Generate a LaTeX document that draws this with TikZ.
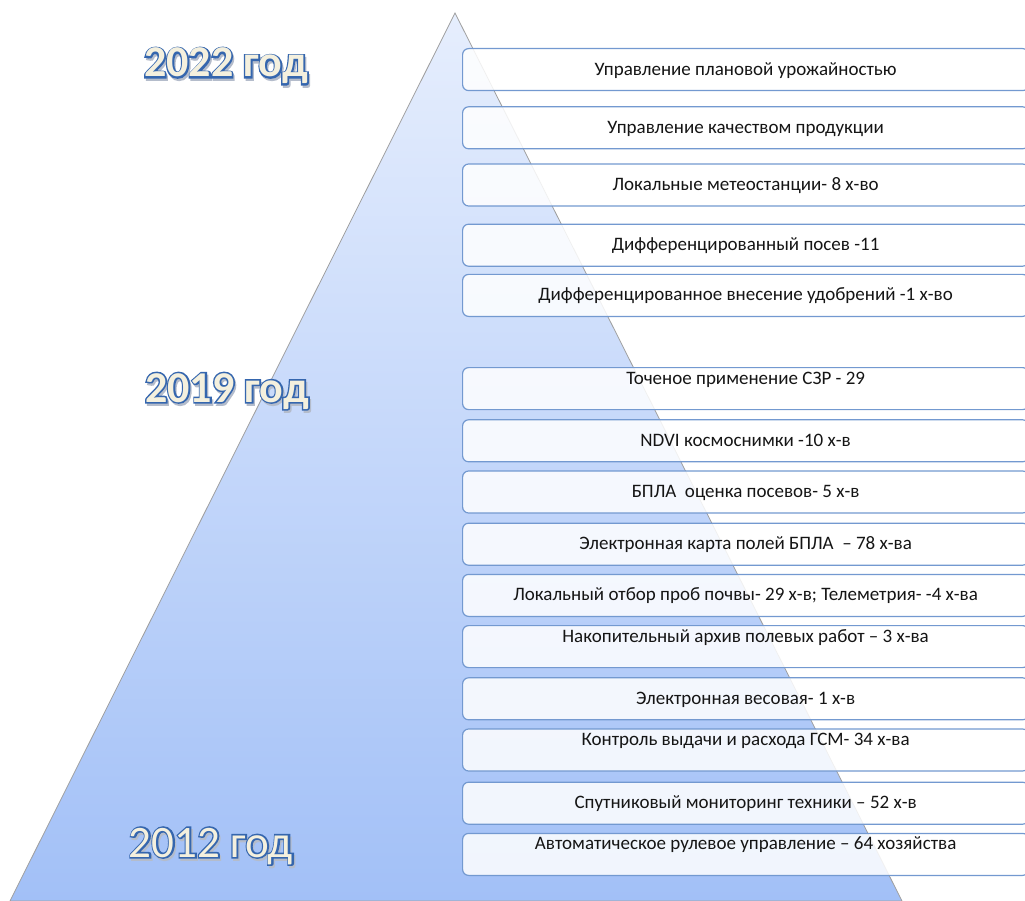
\documentclass[tikz,border=0pt]{standalone}
\usepackage{fontspec}
\setmainfont{Carlito}
\usetikzlibrary{positioning}

\definecolor{boxline}{HTML}{7399D0}
\definecolor{pyrtop}{HTML}{E6EEFD}
\definecolor{pyrbot}{HTML}{A2C0F7}
\definecolor{yearfill}{HTML}{F4F0DE}
\definecolor{yearline}{HTML}{3566AE}
\definecolor{yearshade}{HTML}{B4BCCB}
\definecolor{itemtext}{HTML}{151515}

\begin{document}
\begin{tikzpicture}
      [ x=1pt, y=-1pt,
        item/.style={draw=boxline, line width=1.2pt, rounded corners=6pt,
          fill=white, fill opacity=0.85, text opacity=1, text=itemtext,
          minimum width=566pt, minimum height=42pt, inner sep=0pt,
          font=\fontsize{19}{21}\selectfont, text height=14pt, text depth=3pt},
        itemtop/.style={item, text depth=23pt},
        yearbig/.style={font=\fontsize{44}{48}\selectfont\bfseries, inner sep=0pt, anchor=base},
        yearthin/.style={font=\fontsize{45}{48}\selectfont, inner sep=0pt, anchor=base}
      ]
      % outlined year text: shadow, blue stroke, cream face
      \newcommand{\outlined}[1]{%
        \rlap{\kern1.5pt\raisebox{-2.5pt}{\color{yearshade}\addfontfeature{FakeBold=6}#1}}%
        \rlap{\color{yearline}\addfontfeature{FakeBold=7}#1}%
        {\color{yearfill}#1}}
      \useasboundingbox (0,0) rectangle (1025,901);
      \clip (0,0) rectangle (1025,901);

      % pyramid
      \shade[top color=pyrtop, bottom color=pyrbot, draw=gray!75, line width=0.8pt]
        (455,13) -- (902,901) -- (10,901) -- cycle;

      % year labels
      \node[yearbig]  (y22) at (226,77)  {\outlined{2022 год}};
      \node[yearbig]  (y19) at (227,402) {\outlined{2019 год}};
      \node[yearthin] (y12) at (211,857) {\outlined{2012 год}};

      % steps
      \node[item, anchor=north west] (b1) at (462,48) {Управление плановой урожайностью};
      \node[item]    (b2)  [below=15pt of b1]  {Управление качеством продукции};
      \node[item]    (b3)  [below=14pt of b2]  {Локальные метеостанции- 8 х-во};
      \node[item]    (b4)  [below=17pt of b3]  {Дифференцированный посев -11};
      \node[item]    (b5)  [below=7pt of b4]   {Дифференцированное внесение удобрений -1 х-во};
      \node[itemtop] (b6)  [below=50pt of b5]  {Точеное применение СЗР - 29};
      \node[item]    (b7)  [below=9pt of b6]   {NDVI космоснимки -10 х-в};
      \node[item]    (b8)  [below=8pt of b7]   {БПЛА \ оценка посевов- 5 х-в};
      \node[item]    (b9)  [below=9pt of b8]   {Электронная карта полей БПЛА \ – 78 х-ва};
      \node[item]    (b10) [below=8pt of b9]   {Локальный отбор проб почвы- 29 х-в; Телеметрия- -4 х-ва};
      \node[itemtop] (b11) [below=8pt of b10]  {Накопительный архив полевых работ – 3 х-ва};
      \node[item]    (b12) [below=9pt of b11]  {Электронная весовая- 1 х-в};
      \node[itemtop] (b13) [below=8pt of b12]  {Контроль выдачи и расхода ГСМ- 34 х-ва};
      \node[item]    (b14) [below=10pt of b13] {Спутниковый мониторинг техники – 52 х-в};
      \node[itemtop] (b15) [below=8pt of b14]  {Автоматическое рулевое управление – 64 хозяйства};
\end{tikzpicture}
\end{document}
